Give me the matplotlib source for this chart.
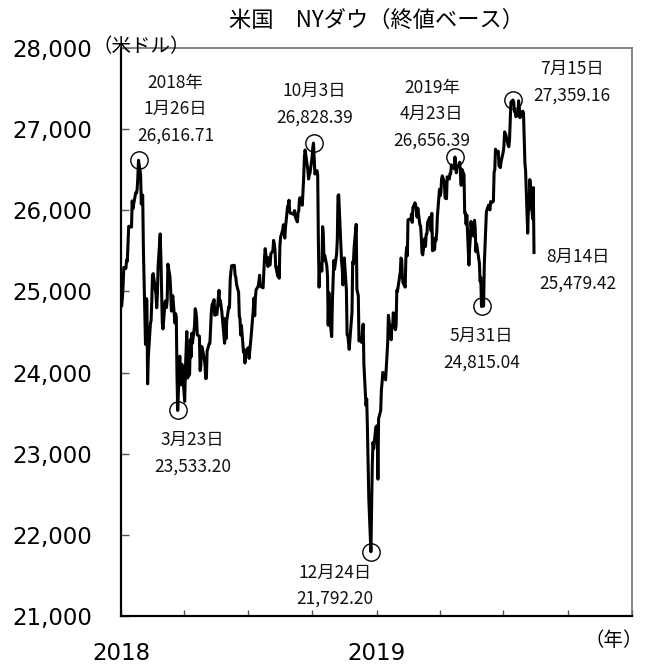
import matplotlib
matplotlib.use("Agg")
import matplotlib.pyplot as plt
import matplotlib.dates as mdates
import numpy as np
import pandas as pd

plt.rcParams['font.family'] = ['Noto Sans CJK JP', 'DejaVu Sans']

# ---------------- data ----------------
dates = [
 "2018-01-02","2018-01-03","2018-01-04","2018-01-05","2018-01-08","2018-01-09","2018-01-10","2018-01-11","2018-01-12",
 "2018-01-16","2018-01-17","2018-01-18","2018-01-19","2018-01-22","2018-01-23","2018-01-24","2018-01-25","2018-01-26",
 "2018-01-29","2018-01-30","2018-01-31","2018-02-01","2018-02-02","2018-02-05","2018-02-06","2018-02-07","2018-02-08",
 "2018-02-09","2018-02-12","2018-02-13","2018-02-14","2018-02-15","2018-02-16","2018-02-20","2018-02-21","2018-02-22",
 "2018-02-23","2018-02-26","2018-02-27","2018-02-28","2018-03-01","2018-03-02","2018-03-05","2018-03-06","2018-03-07",
 "2018-03-08","2018-03-09","2018-03-12","2018-03-13","2018-03-14","2018-03-15","2018-03-16","2018-03-19","2018-03-20",
 "2018-03-21","2018-03-22","2018-03-23","2018-03-26","2018-03-27","2018-03-28","2018-03-29","2018-04-02","2018-04-03",
 "2018-04-04","2018-04-05","2018-04-06","2018-04-09","2018-04-10","2018-04-11","2018-04-12","2018-04-13","2018-04-16",
 "2018-04-17","2018-04-18","2018-04-19","2018-04-20","2018-04-23","2018-04-24","2018-04-25","2018-04-26","2018-04-27",
 "2018-04-30","2018-05-01","2018-05-02","2018-05-03","2018-05-04","2018-05-07","2018-05-08","2018-05-09","2018-05-10",
 "2018-05-11","2018-05-14","2018-05-15","2018-05-16","2018-05-17","2018-05-18","2018-05-21","2018-05-22","2018-05-23",
 "2018-05-24","2018-05-25","2018-05-29","2018-05-30","2018-05-31","2018-06-01","2018-06-04","2018-06-05","2018-06-06",
 "2018-06-07","2018-06-08","2018-06-11","2018-06-12","2018-06-13","2018-06-14","2018-06-15","2018-06-18","2018-06-19",
 "2018-06-20","2018-06-21","2018-06-22","2018-06-25","2018-06-26","2018-06-27","2018-06-28","2018-06-29","2018-07-02",
 "2018-07-03","2018-07-05","2018-07-06","2018-07-09","2018-07-10","2018-07-11","2018-07-12","2018-07-13","2018-07-16",
 "2018-07-17","2018-07-18","2018-07-19","2018-07-20","2018-07-23","2018-07-24","2018-07-25","2018-07-26","2018-07-27",
 "2018-07-30","2018-07-31","2018-08-01","2018-08-02","2018-08-03","2018-08-06","2018-08-07","2018-08-08","2018-08-09",
 "2018-08-10","2018-08-13","2018-08-14","2018-08-15","2018-08-16","2018-08-17","2018-08-20","2018-08-21","2018-08-22",
 "2018-08-23","2018-08-24","2018-08-27","2018-08-28","2018-08-29","2018-08-30","2018-08-31","2018-09-04","2018-09-05",
 "2018-09-06","2018-09-07","2018-09-10","2018-09-11","2018-09-12","2018-09-13","2018-09-14","2018-09-17","2018-09-18",
 "2018-09-19","2018-09-20","2018-09-21","2018-09-24","2018-09-25","2018-09-26","2018-09-27","2018-09-28","2018-10-01",
 "2018-10-02","2018-10-03","2018-10-04","2018-10-05","2018-10-08","2018-10-09","2018-10-10","2018-10-11","2018-10-12",
 "2018-10-15","2018-10-16","2018-10-17","2018-10-18","2018-10-19","2018-10-22","2018-10-23","2018-10-24","2018-10-25",
 "2018-10-26","2018-10-29","2018-10-30","2018-10-31","2018-11-01","2018-11-02","2018-11-05","2018-11-06","2018-11-07",
 "2018-11-08","2018-11-09","2018-11-12","2018-11-13","2018-11-14","2018-11-15","2018-11-16","2018-11-19","2018-11-20",
 "2018-11-21","2018-11-23","2018-11-26","2018-11-27","2018-11-28","2018-11-29","2018-11-30","2018-12-03","2018-12-04",
 "2018-12-06","2018-12-07","2018-12-10","2018-12-11","2018-12-12","2018-12-13","2018-12-14","2018-12-17","2018-12-18",
 "2018-12-19","2018-12-20","2018-12-21","2018-12-24","2018-12-26","2018-12-27","2018-12-28","2018-12-31",
 "2019-01-02","2019-01-03","2019-01-04","2019-01-07","2019-01-08","2019-01-09","2019-01-10","2019-01-11","2019-01-14",
 "2019-01-15","2019-01-16","2019-01-17","2019-01-18","2019-01-22","2019-01-23","2019-01-24","2019-01-25","2019-01-28",
 "2019-01-29","2019-01-30","2019-01-31","2019-02-01","2019-02-04","2019-02-05","2019-02-06","2019-02-07","2019-02-08",
 "2019-02-11","2019-02-12","2019-02-13","2019-02-14","2019-02-15","2019-02-19","2019-02-20","2019-02-21","2019-02-22",
 "2019-02-25","2019-02-26","2019-02-27","2019-02-28","2019-03-01","2019-03-04","2019-03-05","2019-03-06","2019-03-07",
 "2019-03-08","2019-03-11","2019-03-12","2019-03-13","2019-03-14","2019-03-15","2019-03-18","2019-03-19","2019-03-20",
 "2019-03-21","2019-03-22","2019-03-25","2019-03-26","2019-03-27","2019-03-28","2019-03-29","2019-04-01","2019-04-02",
 "2019-04-03","2019-04-04","2019-04-05","2019-04-08","2019-04-09","2019-04-10","2019-04-11","2019-04-12","2019-04-15",
 "2019-04-16","2019-04-17","2019-04-18","2019-04-22","2019-04-23","2019-04-24","2019-04-25","2019-04-26","2019-04-29",
 "2019-04-30","2019-05-01","2019-05-02","2019-05-03","2019-05-06","2019-05-07","2019-05-08","2019-05-09","2019-05-10",
 "2019-05-13","2019-05-14","2019-05-15","2019-05-16","2019-05-17","2019-05-20","2019-05-21","2019-05-22","2019-05-23",
 "2019-05-24","2019-05-28","2019-05-29","2019-05-30","2019-05-31","2019-06-03","2019-06-04","2019-06-05","2019-06-06",
 "2019-06-07","2019-06-10","2019-06-11","2019-06-12","2019-06-13","2019-06-14","2019-06-17","2019-06-18","2019-06-19",
 "2019-06-20","2019-06-21","2019-06-24","2019-06-25","2019-06-26","2019-06-27","2019-06-28","2019-07-01","2019-07-02",
 "2019-07-03","2019-07-05","2019-07-08","2019-07-09","2019-07-10","2019-07-11","2019-07-12","2019-07-15","2019-07-16",
 "2019-07-17","2019-07-18","2019-07-19","2019-07-22","2019-07-23","2019-07-24","2019-07-25","2019-07-26","2019-07-29",
 "2019-07-30","2019-07-31","2019-08-01","2019-08-02","2019-08-05","2019-08-06","2019-08-07","2019-08-08","2019-08-09",
 "2019-08-12","2019-08-13","2019-08-14",
]

closes = [
 24824.01,24922.68,25075.13,25295.87,25283.00,25385.80,25369.13,25574.73,25803.19,
 25792.86,26115.65,26017.81,26071.72,26214.60,26210.81,26252.12,26392.79,26616.71,
 26439.48,26076.89,26149.39,26186.71,25520.96,24345.75,24912.77,24893.35,23860.46,
 24190.90,24601.27,24640.45,24893.49,25200.37,25219.38,24964.75,24797.78,24962.48,
 25309.99,25709.27,25410.03,25029.20,24608.98,24538.06,24874.76,24884.12,24801.36,
 24895.21,25335.74,25178.61,25007.03,24758.12,24873.66,24946.51,24610.91,24727.27,
 24682.31,23957.89,23533.20,24202.60,23857.71,23848.42,24103.11,23644.19,24033.36,
 24264.30,24505.22,23932.76,23979.10,24407.62,24189.45,24483.05,24360.14,24573.04,
 24786.63,24748.07,24664.89,24462.94,24448.69,24024.13,24083.83,24322.34,24311.19,
 24163.15,24099.05,23924.98,23930.15,24262.51,24357.32,24360.21,24542.54,24739.53,
 24831.17,24899.41,24706.41,24768.93,24713.98,24715.09,25013.29,24834.41,24886.81,
 24811.76,24753.09,24361.45,24667.78,24415.84,24635.21,24813.69,24799.98,25146.39,
 25241.41,25316.53,25322.31,25320.73,25201.20,25175.31,25090.48,24987.47,24700.21,
 24657.80,24461.70,24580.89,24252.80,24283.11,24117.59,24216.05,24271.41,24307.18,
 24174.82,24356.74,24456.48,24776.59,24919.66,24700.45,24924.89,25019.41,25064.36,
 25119.89,25199.29,25064.50,25058.12,25044.29,25241.94,25414.10,25527.07,25451.06,
 25306.83,25415.19,25333.82,25326.16,25462.58,25502.18,25628.91,25583.75,25509.23,
 25313.14,25187.70,25299.92,25162.41,25558.73,25669.32,25758.69,25822.29,25733.60,
 25656.98,25790.35,26049.64,26064.02,26124.57,25986.92,25964.82,25952.48,25974.99,
 25995.87,25916.54,25857.07,25971.06,25998.92,26145.99,26154.67,26062.12,26246.96,
 26405.76,26656.98,26743.50,26562.05,26492.21,26385.28,26439.93,26458.31,26651.21,
 26773.94,26828.39,26627.48,26447.05,26486.78,26430.57,25598.74,25052.83,25339.99,
 25250.55,25798.42,25706.68,25379.45,25444.34,25317.41,25191.43,24583.42,24984.55,
 24688.31,24442.92,24874.64,25115.76,25380.74,25270.83,25461.70,25635.01,26180.30,
 26191.22,25989.30,25387.18,25286.49,25080.50,25289.27,25413.22,25017.44,24465.64,
 24464.69,24285.95,24640.24,24748.73,25366.43,25338.84,25538.46,25826.43,25027.07,
 24947.67,24388.95,24423.26,24370.24,24527.27,24597.38,24100.51,23592.98,23675.64,
 23323.66,22859.60,22445.37,21792.20,22878.45,23138.82,23062.40,23327.46,
 23346.24,22686.22,23433.16,23531.35,23787.45,23879.12,24001.92,23995.95,23909.84,
 24065.59,24207.16,24370.10,24706.35,24404.48,24575.62,24553.24,24737.20,24528.22,
 24579.96,25014.86,24999.67,25063.89,25239.37,25411.52,25390.30,25169.53,25106.33,
 25053.11,25425.76,25543.27,25439.39,25883.25,25891.32,25954.44,25850.63,26031.81,
 26091.95,26057.98,25985.16,25916.00,26026.32,25819.65,25806.63,25673.46,25473.23,
 25450.24,25650.88,25554.66,25702.89,25709.94,25848.87,25914.10,25887.38,25745.67,
 25962.51,25502.32,25516.83,25657.73,25625.59,25717.46,25928.68,26258.42,26179.13,
 26218.13,26384.63,26424.99,26341.02,26150.58,26157.16,26143.05,26412.30,26384.77,
 26452.66,26449.54,26559.54,26511.05,26656.39,26597.05,26462.08,26543.33,26554.39,
 26592.91,26430.14,26307.79,26504.95,26438.48,25965.09,25967.33,25828.36,25942.37,
 25324.99,25532.05,25648.02,25862.68,25764.00,25679.90,25877.33,25776.61,25490.47,
 25585.69,25347.77,25126.41,25169.88,24815.04,24819.78,25332.18,25539.57,25720.66,
 25983.94,26062.68,26048.51,26004.83,26106.77,26089.61,26112.53,26465.54,26504.00,
 26753.17,26719.13,26727.54,26548.22,26536.82,26526.58,26599.96,26717.43,26786.68,
 26966.00,26922.12,26806.14,26783.49,26860.20,27088.08,27332.03,27359.16,27335.63,
 27219.85,27222.97,27154.20,27171.90,27349.19,27269.97,27140.98,27192.45,27221.35,
 27198.02,26864.27,26583.42,26485.01,25717.74,26029.52,26007.07,26378.19,26287.44,
 25896.44,26279.91,25479.42,
]

# annotated points
circle_dates = ["2018-01-26", "2018-03-23", "2018-10-03", "2018-12-24",
                "2019-04-23", "2019-05-31", "2019-07-15"]
label_dates = ["2018-01-26", "2018-03-23", "2018-10-03", "2018-12-24",
               "2019-04-23", "2019-05-31", "2019-07-15", "2019-08-14"]
label_heads = ["2018年\n1月26日", "3月23日", "10月3日", "12月24日",
               "2019年\n4月23日", "5月31日", "7月15日", "8月14日"]
# text offsets (pixels) of label block centre from the point
label_offsets = [(37, 51), (15, -43), (1, 39), (-36, -34),
                 (-23, 43), (0, -43), (59, 18), (44, -18)]

y_ticks = [21000, 22000, 23000, 24000, 25000, 26000, 27000, 28000]
year_labels = ["2018", "2019"]

# ---------------- plot ----------------
W, H = 646, 664
fig = plt.figure(figsize=(W / 100, H / 100), dpi=100)
ax = fig.add_axes([121 / W, 48 / H, 511 / W, 568 / H])

x = pd.to_datetime(dates)
y = np.array(closes)
ax.plot(x, y, color='black', lw=2.2, solid_joinstyle='round', zorder=3)

lookup = dict(zip(dates, closes))
cx = pd.to_datetime(circle_dates)
cy = [lookup[d] for d in circle_dates]
ax.plot(cx, cy, 'o', ms=12.5, mfc='none', mec='black', mew=1.0, zorder=4)

for d, head, (dx, dy) in zip(label_dates, label_heads, label_offsets):
    v = lookup[d]
    txt = f"{head}\n{v:,.2f}"
    ax.annotate(txt, xy=(pd.Timestamp(d), v), xytext=(dx, dy),
                textcoords='offset pixels', ha='center', va='center',
                fontsize=12.5, linespacing=1.6, color='#111111')

ax.set_xlim(pd.Timestamp("2018-01-01"), pd.Timestamp("2020-01-01"))
ax.set_ylim(21000, 28000)

# x ticks: quarters, labels for years
qticks = pd.date_range("2018-01-01", "2020-01-01", freq="QS")
ax.set_xticks(qticks)
xl = []
for t in qticks:
    s = str(t.year)
    xl.append(s if (t.month == 1 and s in year_labels) else "")
ax.set_xticklabels(xl, fontsize=16.5, family='DejaVu Sans')

ax.set_yticks(y_ticks)
ax.set_yticklabels([f"{v:,}" for v in y_ticks], fontsize=16.5, family='DejaVu Sans')

ax.tick_params(axis='x', direction='in', length=4.5, width=1, color='#555555', pad=19)
ax.tick_params(axis='y', direction='in', length=6, width=1, color='#555555', pad=21)

for side in ['left', 'bottom']:
    ax.spines[side].set_color('black')
    ax.spines[side].set_linewidth(1.6)
for side in ['top', 'right']:
    ax.spines[side].set_color('#707070')
    ax.spines[side].set_linewidth(1.2)

fig.text(376.5 / W, 1 - 20 / H, "米国　NYダウ（終値ベース）", ha='center', va='center', fontsize=16)
fig.text(141 / W, 1 - 47 / H, "（米ドル）", ha='center', va='center', fontsize=14)
fig.text(614 / W, 1 - 640 / H, "（年）", ha='center', va='center', fontsize=14)

fig.savefig("out.png", dpi=100)
